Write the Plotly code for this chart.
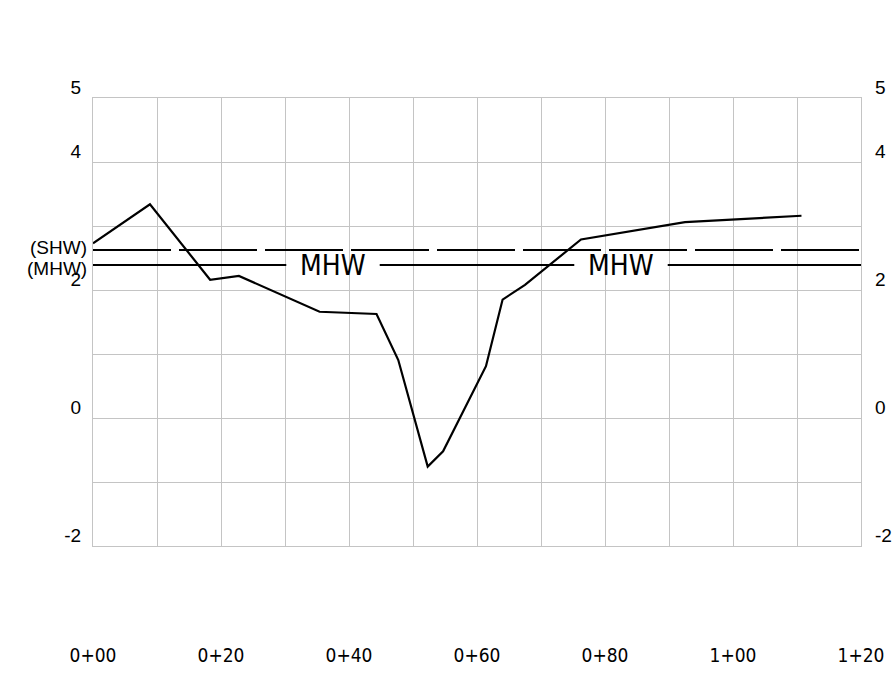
import plotly.graph_objects as go

# Profile data (station in ft, elevation)
station = [0, 8.9, 18.3, 22.8, 35.4, 44.3, 47.7, 52.3, 54.7, 61.4, 64.0, 67.5, 76.25, 92.5, 110.7]
elev = [2.73, 3.34, 2.16, 2.22, 1.66, 1.625, 0.906, -0.76, -0.52, 0.81, 1.85, 2.08, 2.79, 3.06, 3.16]

shw_level = 2.625
mhw_level = 2.39
mhw_label_x = [37.5, 82.5]
mhw_gap_half = 7.3

x_tickvals = list(range(0, 121, 10))
x_ticktext = ["0+00", "", "0+20", "", "0+40", "", "0+60", "", "0+80", "", "1+00", "", "1+20"]
y_tickvals = [-2, -1, 0, 1, 2, 3, 4, 5]
y_ticktext = ["-2", "", "0", "", "2", "", "4", "5"]

x_range = [0, 120]
y_range = [-2, 5]

# MHW line broken around labels
mhw_x, mhw_y = [], []
start = x_range[0]
for lx in mhw_label_x:
    mhw_x += [start, lx - mhw_gap_half, None]
    mhw_y += [mhw_level, mhw_level, None]
    start = lx + mhw_gap_half
mhw_x += [start, x_range[1]]
mhw_y += [mhw_level, mhw_level]

fig = go.Figure()
fig.add_trace(go.Scatter(x=x_range, y=[shw_level, shw_level], mode="lines",
                         line=dict(color="black", width=2, dash="78px,8px"), hoverinfo="skip"))
fig.add_trace(go.Scatter(x=mhw_x, y=mhw_y, mode="lines",
                         line=dict(color="black", width=2), hoverinfo="skip"))
fig.add_trace(go.Scatter(x=station, y=elev, mode="lines",
                         line=dict(color="black", width=2.2)))
fig.add_trace(go.Scatter(x=x_range, y=y_range, mode="markers", yaxis="y2",
                         marker=dict(opacity=0), hoverinfo="skip"))

narrow = "Liberation Sans Narrow, DejaVu Sans Condensed, Liberation Sans"
for lx in mhw_label_x:
    fig.add_annotation(x=lx, y=mhw_level, text="MHW", showarrow=False,
                       font=dict(family=narrow, size=28, color="black"),
                       xanchor="center", yanchor="middle")

lab_font = dict(family="Liberation Sans, Arial", size=19, color="black")
fig.add_annotation(xref="paper", x=0, y=shw_level, text="(SHW)", showarrow=False,
                   font=lab_font, xanchor="right", yanchor="middle", xshift=-4, yshift=3)
fig.add_annotation(xref="paper", x=0, y=mhw_level, text="(MHW)", showarrow=False,
                   font=lab_font, xanchor="right", yanchor="middle", xshift=-4, yshift=-3)

grid = "#c4c4c4"
fig.update_layout(
    width=893, height=678,
    margin=dict(l=93, r=32, t=98, b=132),
    paper_bgcolor="white", plot_bgcolor="white",
    showlegend=False,
    xaxis=dict(range=x_range, tickvals=x_tickvals, ticktext=x_ticktext,
               showgrid=True, gridcolor=grid, gridwidth=1, zeroline=False,
               showline=True, mirror=True, linecolor=grid, linewidth=1,
               ticks="", ticklabelstandoff=92, automargin=False,
               tickfont=dict(family=narrow, size=19, color="black")),
    yaxis=dict(range=y_range, tickvals=y_tickvals, ticktext=y_ticktext,
               showgrid=True, gridcolor=grid, gridwidth=1, zeroline=False,
               showline=True, mirror=True, linecolor=grid, linewidth=1,
               ticks="", ticklabelshift=-11, ticklabelstandoff=7, automargin=False,
               tickfont=lab_font),
    yaxis2=dict(range=y_range, tickvals=y_tickvals, ticktext=y_ticktext,
                overlaying="y", side="right", showgrid=False, zeroline=False,
                ticks="", ticklabelshift=-11, ticklabelstandoff=13, automargin=False,
                tickfont=lab_font),
)

fig.write_html("out.html", config={"displayModeBar": False},
               post_script="document.body.style.margin='0';document.body.style.overflow='hidden';")
